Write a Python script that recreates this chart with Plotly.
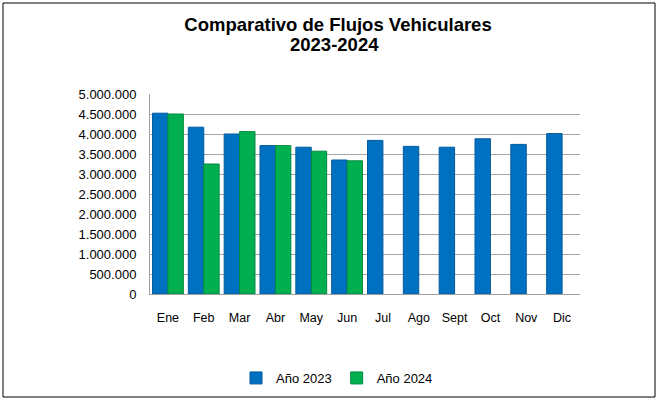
import plotly.graph_objects as go

months = ["Ene", "Feb", "Mar", "Abr", "May", "Jun", "Jul", "Ago", "Sept", "Oct", "Nov", "Dic"]
flujo_2023 = [4520000, 4170000, 4000000, 3710000, 3670000, 3350000,
              3840000, 3690000, 3670000, 3880000, 3740000, 4010000]
flujo_2024 = [4500000, 3250000, 4060000, 3710000, 3570000, 3330000,
              None, None, None, None, None, None]
y_ticks = list(range(0, 5000001, 500000))
title_line1 = "Comparativo de Flujos Vehiculares"
title_line2 = "2023-2024"

W, H = 658, 400
ml, mr, mt, mb = 150, 78, 94, 106
pw, ph = W - ml - mr, H - mt - mb

fig = go.Figure()
fig.add_trace(go.Bar(x=months, y=flujo_2023, name="Año 2023",
                     marker=dict(color="#0070C0", line=dict(color="#005A9E", width=1))))
fig.add_trace(go.Bar(x=months, y=flujo_2024, name="Año 2024",
                     marker=dict(color="#00B050", line=dict(color="#008A3E", width=1))))

def px_x(p):
    return (p - ml) / pw

def px_y(p):
    return (H - p - mb) / ph

fig.update_layout(
    width=W, height=H, autosize=False,
    margin=dict(l=ml, r=mr, t=mt, b=mb, autoexpand=False),
    barmode="group", bargap=0.14, bargroupgap=0.0,
    separators=",.",
    paper_bgcolor="white", plot_bgcolor="white",
    font=dict(family="Liberation Sans, Arial, sans-serif", size=12, color="#000000"),
    title=dict(text="<b>" + title_line1 + "</b>",
               x=338 / W, xanchor="center", xref="container",
               y=1 - 25 / H, yanchor="middle", yref="container",
               font=dict(size=18.5, color="#000000")),
    annotations=[dict(text="<b>" + title_line2 + "</b>", xref="paper", yref="paper",
                      x=px_x(334), y=px_y(44), xanchor="center", yanchor="middle",
                      showarrow=False, font=dict(size=18.5, color="#000000"))],
    xaxis=dict(showgrid=False, showline=True, linecolor="#A0A0A0", linewidth=1,
               ticks="", tickfont=dict(size=12.5), tickangle=0, automargin=False,
               ticklabelstandoff=12),
    yaxis=dict(range=[0, 5000000], tickvals=y_ticks, tickformat=",d",
               showgrid=True, gridcolor="#A6A6A6", gridwidth=1,
               showline=True, linecolor="#A0A0A0", zeroline=False,
               ticks="", tickfont=dict(size=13), automargin=False,
               ticklabelstandoff=10),
    legend=dict(orientation="h", x=px_x(337), xanchor="center",
                y=px_y(378), yanchor="middle", font=dict(size=13),
                traceorder="normal", itemwidth=30),
    showlegend=True,
    shapes=[dict(type="rect", xref="paper", yref="paper",
                 x0=px_x(3), x1=px_x(655), y0=px_y(397), y1=px_y(3),
                 line=dict(color="#000000", width=1), layer="below")],
)

fig.write_html("out.html", config={"displayModeBar": False},
               post_script="document.body.style.margin='0';document.body.style.padding='0';")
